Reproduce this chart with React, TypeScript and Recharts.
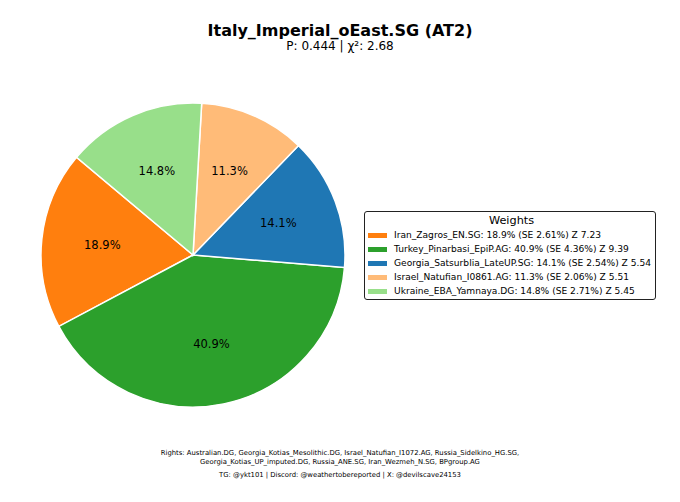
import React from "react";
import { PieChart, Pie, Cell, Legend } from "recharts";

const names = [
  "Iran_Zagros_EN.SG",
  "Turkey_Pinarbasi_EpiP.AG",
  "Georgia_Satsurblia_LateUP.SG",
  "Israel_Natufian_I0861.AG",
  "Ukraine_EBA_Yamnaya.DG",
];
const weights = [18.9, 40.9, 14.1, 11.3, 14.8];
const stdErrs = [2.61, 4.36, 2.54, 2.06, 2.71];
const zScores = [7.23, 9.39, 5.54, 5.51, 5.45];
const colors = ["#ff7f0e", "#2ca02c", "#1f77b4", "#ffbb78", "#98df8a"];

const title = "Italy_Imperial_oEast.SG (AT2)";
const subtitle = "P: 0.444 | χ²: 2.68";
const footer1 =
  "Rights: Australian.DG, Georgia_Kotias_Mesolithic.DG, Israel_Natufian_I1072.AG, Russia_Sidelkino_HG.SG,";
const footer2 =
  "Georgia_Kotias_UP_imputed.DG, Russia_ANE.SG, Iran_Wezmeh_N.SG, BPgroup.AG";
const footer3 = "TG: @ykt101 | Discord: @weathertobereported | X: @devilscave24153";

const data = names.map((n, i) => ({
  name: n,
  value: weights[i],
  se: stdErrs[i],
  z: zScores[i],
}));

const FONT = "'DejaVu Sans', sans-serif";
const RAD = Math.PI / 180;

const renderLabel = (props: any) => {
  const { cx, cy, midAngle, outerRadius, value } = props;
  const r = outerRadius * 0.6;
  const x = cx + r * Math.cos(-midAngle * RAD);
  const y = cy + r * Math.sin(-midAngle * RAD);
  return (
    <text
      x={x}
      y={y}
      textAnchor="middle"
      dominantBaseline="central"
      fontSize={11.5}
      fontFamily={FONT}
      fill="#000"
    >
      {value.toFixed(1)}%
    </text>
  );
};

const LegendContent = () => (
  <div
    style={{
      border: "1px solid #222",
      borderRadius: 3,
      padding: "2px 0 1px 3px",
      fontFamily: FONT,
      background: "#fff",
      width: 292,
      boxSizing: "border-box",
      textAlign: "left",
    }}
  >
    <div style={{ textAlign: "center", fontSize: 11.3, lineHeight: "14px" }}>Weights</div>
    {data.map((d, i) => (
      <div
        key={d.name}
        style={{
          display: "flex",
          alignItems: "center",
          fontSize: 9.1,
          lineHeight: "14px",
          height: 14,
          whiteSpace: "nowrap",
        }}
      >
        <span
          style={{
            display: "inline-block",
            flexShrink: 0,
            width: 19,
            height: 5,
            background: colors[i],
            marginRight: 7,
          }}
        />
        <span>
          {d.name}: {d.value.toFixed(1)}% (SE {d.se.toFixed(2)}%) Z {d.z.toFixed(2)}
        </span>
      </div>
    ))}
  </div>
);

export default function App() {
  return (
    <div
      style={{
        position: "absolute",
        left: 0,
        top: 0,
        width: 680,
        height: 502,
        background: "#fff",
        fontFamily: FONT,
      }}
    >
      <div
        style={{
          position: "absolute",
          top: 22,
          left: 0,
          width: 680,
          textAlign: "center",
          fontSize: 16,
          fontWeight: "bold",
          lineHeight: "18px",
        }}
      >
        {title}
      </div>
      <div
        style={{
          position: "absolute",
          top: 40,
          left: 0,
          width: 680,
          textAlign: "center",
          fontSize: 12,
          lineHeight: "13px",
        }}
      >
        {subtitle}
      </div>
      <div style={{ position: "absolute", left: 0, top: 0 }}>
        <PieChart width={680} height={502} margin={{ top: 0, right: 0, bottom: 0, left: 0 }}>
          <Pie
            data={data}
            dataKey="value"
            nameKey="name"
            cx={193}
            cy={255}
            outerRadius={152}
            startAngle={140}
            endAngle={500}
            stroke="#fff"
            strokeWidth={1.5}
            label={renderLabel}
            labelLine={false}
            isAnimationActive={false}
          >
            {data.map((d, i) => (
              <Cell key={d.name} fill={colors[i]} />
            ))}
          </Pie>
          <Legend
            content={<LegendContent />}
            wrapperStyle={{ position: "absolute", left: 364, top: 211, width: "auto" }}
          />
        </PieChart>
      </div>
      <div
        style={{
          position: "absolute",
          top: 449,
          left: 0,
          width: 680,
          textAlign: "center",
          fontSize: 6.85,
          lineHeight: "9px",
        }}
      >
        <div>{footer1}</div>
        <div>{footer2}</div>
        <div style={{ marginTop: 4 }}>{footer3}</div>
      </div>
    </div>
  );
}
